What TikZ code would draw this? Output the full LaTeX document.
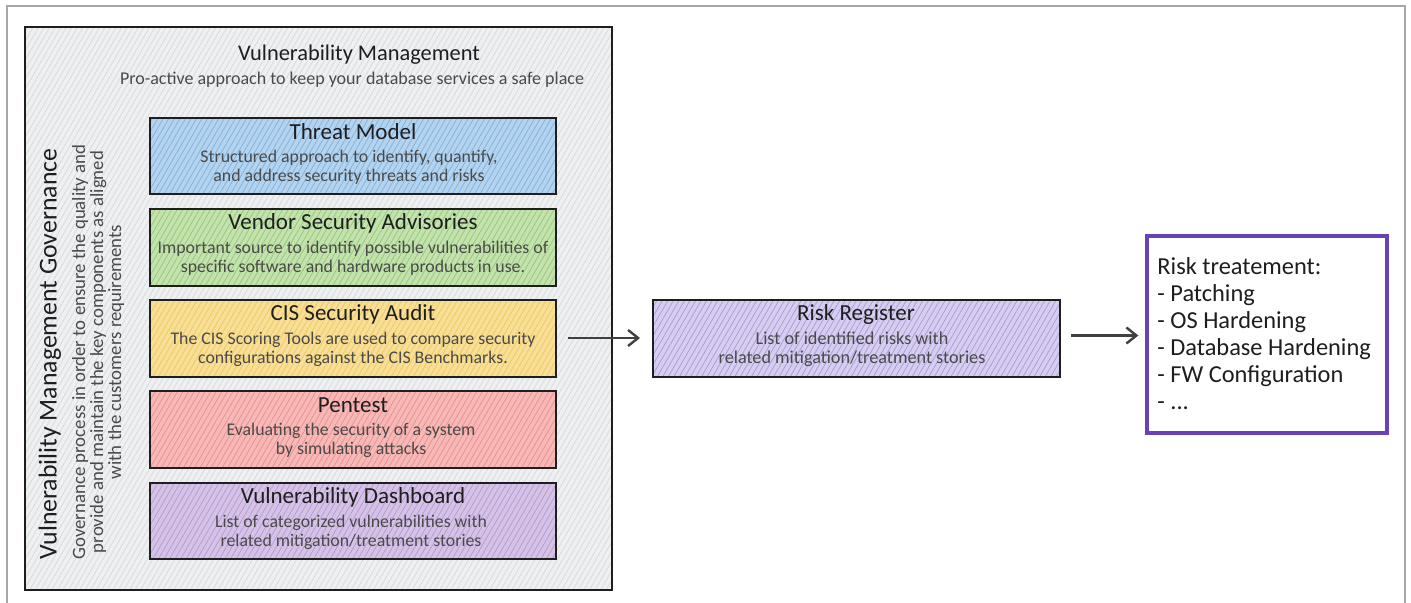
\documentclass[tikz,border=0pt]{standalone}
\usepackage{fontspec}
\setmainfont{Carlito}
\usetikzlibrary{patterns.meta,arrows.meta}
\definecolor{ink}{HTML}{1E1E1E}
\definecolor{note}{HTML}{4A4A4A}
\definecolor{frame}{HTML}{A6A6A6}
\definecolor{panel}{HTML}{EEF0F1}
\definecolor{panelhatch}{HTML}{D6D9DC}
\definecolor{tmfill}{HTML}{B4D3EE}
\definecolor{tmhatch}{HTML}{7FB0DE}
\definecolor{vsfill}{HTML}{C3E2AE}
\definecolor{vshatch}{HTML}{92C873}
\definecolor{cisfill}{HTML}{F8DF98}
\definecolor{cishatch}{HTML}{EFC65A}
\definecolor{ptfill}{HTML}{F6B9B7}
\definecolor{pthatch}{HTML}{EC8C8A}
\definecolor{vdfill}{HTML}{D5C3E6}
\definecolor{vdhatch}{HTML}{B497D6}
\definecolor{rrfill}{HTML}{D6CDEF}
\definecolor{rrhatch}{HTML}{A899D8}
\definecolor{treat}{HTML}{6B42B5}
\tikzset{
  x=0.5pt, y=-0.5pt,
  hatched/.style 2 args={draw=ink, line width=1.1pt,
    preaction={fill=#1},
    preaction={pattern={Lines[angle=60,distance=2.4pt,line width=0.35pt]}, pattern color=#2}},
  cardtitle/.style={font=\fontsize{11.5}{13}\selectfont, text=ink},
  cardnote/.style={font=\fontsize{8.9}{9.6}\selectfont, text=note, align=center},
  flow/.style={draw=ink!85, line width=1.2pt, -{Straight Barb[length=5pt,width=8pt]}},
}
\begin{document}
\begin{tikzpicture}
\useasboundingbox (0,0) rectangle (1411,603);
% page frame
\draw[frame, line width=1pt] (7,603) -- (7,6) -- (1405,6) -- (1405,603);

% governance panel
\draw[hatched={panel}{panelhatch}] (25,27) rectangle (612,590);
\node[font=\fontsize{11.2}{13}\selectfont, text=ink] (vmtitle) at (359,55) {Vulnerability Management};
\node[font=\fontsize{9}{10}\selectfont, text=note] (vmsub) at (352,80) {Pro-active approach to keep your database services a safe place};

\node[rotate=90, font=\fontsize{12.9}{14}\selectfont, text=ink] (govtitle) at (50,354) {Vulnerability Management Governance};
\node[rotate=90, font=\fontsize{9.4}{9}\selectfont, text=note, align=center] (govnote) at (98,352)
  {Governance process in order to ensure the quality and\\
   provide and maintain the key components as aligned\\
   with the customers requirements};

% component cards
\draw[hatched={tmfill}{tmhatch}] (150,118) rectangle (556,194);
\node[cardtitle] (tm) at (353,132) {Threat Model};
\node[cardnote] (tmnote) at (349,167) {Structured approach to identify, quantify,\\and address security threats and risks};

\draw[hatched={vsfill}{vshatch}] (150,209) rectangle (556,286);
\node[cardtitle] (vs) at (353,223) {Vendor Security Advisories};
\node[cardnote] (vsnote) at (353,258) {Important source to identify possible vulnerabilities of\\specific software and hardware products in use.};

\draw[hatched={cisfill}{cishatch}] (150,300) rectangle (556,377);
\node[cardtitle] (cis) at (353,314) {CIS Security Audit};
\node[cardnote] (cisnote) at (353,349) {The CIS Scoring Tools are used to compare security\\configurations against the CIS Benchmarks.};

\draw[hatched={ptfill}{pthatch}] (150,391) rectangle (556,468);
\node[cardtitle] (pt) at (353,405) {Pentest};
\node[cardnote] (ptnote) at (351,440) {Evaluating the security of a system\\by simulating attacks};

\draw[hatched={vdfill}{vdhatch}] (150,483) rectangle (556,559);
\node[cardtitle] (vd) at (353,497) {Vulnerability Dashboard};
\node[cardnote] (vdnote) at (351,532) {List of categorized vulnerabilities with\\related mitigation/treatment stories};

% risk register
\node[hatched={rrfill}{rrhatch}, minimum width=203.5pt, minimum height=38.5pt, inner sep=0pt] (rr) at (856.5,338.5) {};
\node[cardtitle] (rrtitle) at (856,314) {Risk Register};
\node[cardnote, font=\fontsize{9.1}{9.6}\selectfont] (rrnote) at (852,349) {List of identified risks with\\related mitigation/treatment stories};

% risk treatment
\node[draw=treat, line width=1.7pt, fill=white, minimum width=120pt, minimum height=98.5pt, inner sep=0pt] (rt) at (1267,334.5) {};
\node[anchor=north west, align=left, text=ink, font=\fontsize{12.2}{13.5}\selectfont, inner sep=0pt] (rttext) at (1157,257)
  {Risk treatement:\\- Patching\\- OS Hardening\\- Database Hardening\\- FW Configuration\\- ...};

% flow
\coordinate (src) at (568,338);
\coordinate (rrin) at (640,338);
\draw[flow] (src) -- (rrin);
\coordinate (rrout) at ([xshift=5pt,yshift=1.5pt]rr.east);
\coordinate (rtin) at ([xshift=-3.5pt]rt.west |- rrout);
\draw[flow] (rrout) -- (rtin);
\end{tikzpicture}
\end{document}
